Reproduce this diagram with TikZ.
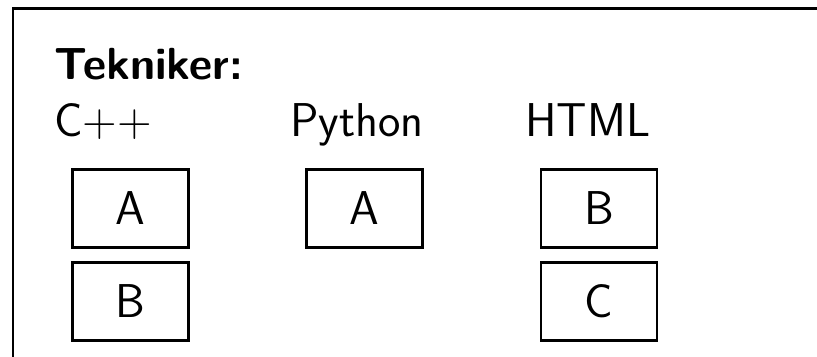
\documentclass[tikz,border=0pt]{standalone}
\usepackage{tikz}
\usetikzlibrary{positioning}
\tikzstyle{heading} = [anchor=base west, inner sep=0pt, font=\sffamily\fontsize{27}{32}\selectfont]
\tikzstyle{skill} = [rectangle, draw=black, line width=1.6pt, minimum width=2.32cm, minimum height=1.56cm, text centered, font=\sffamily\fontsize{27}{32}\selectfont]

\begin{document}
\begin{tikzpicture}[node distance=0.24cm]
\useasboundingbox (0,0) rectangle (16.34,-7.14);
\draw [line width=1.4pt] (0.255,-8) -- (0.255,-0.17) -- (17,-0.17);

% Headings
\node (title) [heading, font=\sffamily\bfseries\fontsize{25.6}{30}\selectfont] at (1.08,-1.60) {Tekniker:};
\node (cpp) [heading] at (1.08,-2.74) {C++};
\node (python) [heading] at (5.80,-2.74) {Python};
\node (html) [heading] at (10.50,-2.74) {HTML};

% Boxes
\node (cppa) [skill] at (2.61,-4.17) {A};
\node (cppb) [skill, below=of cppa] {B};
\node (pya) [skill] at (7.29,-4.17) {A};
\node (htmlb) [skill] at (11.98,-4.17) {B};
\node (htmlc) [skill, below=of htmlb] {C};

\end{tikzpicture}
\end{document}
